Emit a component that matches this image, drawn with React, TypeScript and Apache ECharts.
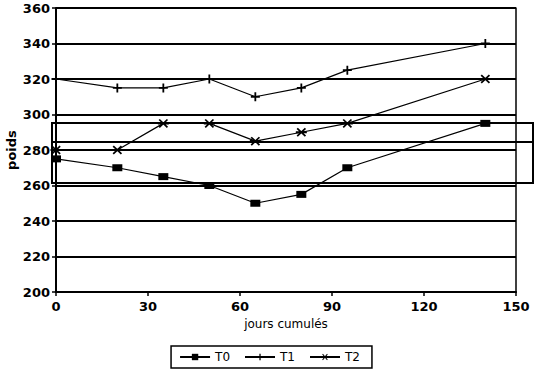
import React, { useEffect, useRef } from "react";
import * as echarts from "echarts";

const days = [0, 20, 35, 50, 65, 80, 95, 140];
const t0 = [275, 270, 265, 260, 250, 255, 270, 295];
const t1 = [320, 315, 315, 320, 310, 315, 325, 340];
const t2 = [280, 280, 295, 295, 285, 290, 295, 320];
const seriesNames = ["T0", "T1", "T2"];
const yTitle = "poids";
const xTitle = "jours cumulés";

const plusPath = "path://M3.2,0H4.8V3.2H8V4.8H4.8V8H3.2V4.8H0V3.2H3.2Z";
const starPath =
  "path://M0,4H10V6H0Z M0.7,1.8L1.8,0.7L9.3,8.2L8.2,9.3Z M8.2,0.7L9.3,1.8L1.8,9.3L0.7,8.2Z";

export default function App() {
  const ref = useRef<HTMLDivElement>(null);
  useEffect(() => {
    document.body.style.margin = "0";
    if (!ref.current) return;
    const chart = echarts.init(ref.current, null, { renderer: "svg" });
    const mk = (ys: number[]) => days.map((d, i) => [d, ys[i]]);
    const font = "DejaVu Sans";
    const lineStyle = { color: "#000", width: 1.2 };
    chart.setOption({
      animation: false,
      backgroundColor: "#fff",
      textStyle: { fontFamily: font, color: "#000" },
      grid: { left: 56, right: 23, top: 8, bottom: 86, containLabel: false, outerBoundsMode: "none" },
      xAxis: {
        type: "value",
        min: 0,
        max: 150,
        interval: 30,
        name: xTitle,
        nameLocation: "middle",
        nameGap: 26,
        nameTextStyle: { fontFamily: font, fontSize: 12, color: "#000" },
        axisLine: { show: true, lineStyle: { color: "#000", width: 2 } },
        axisTick: { show: true, length: 4, lineStyle: { color: "#000", width: 1.5 } },
        axisLabel: { fontFamily: font, fontWeight: "bold", fontSize: 13, color: "#000", margin: 8 },
        splitLine: { show: false },
      },
      yAxis: [
        {
          type: "value",
          min: 200,
          max: 360,
          interval: 20,
          axisLine: { show: true, lineStyle: { color: "#000", width: 2 } },
          axisTick: { show: true, length: 4, lineStyle: { color: "#000", width: 1.5 } },
          axisLabel: { fontFamily: font, fontWeight: "bold", fontSize: 13, color: "#000", margin: 6 },
          splitLine: { show: true, lineStyle: { color: "#000", width: 2 } },
        },
        {
          type: "value",
          min: 200,
          max: 360,
          interval: 20,
          position: "right",
          axisLine: { show: true, lineStyle: { color: "#000", width: 1.5 } },
          axisTick: { show: false },
          axisLabel: { show: false },
          splitLine: { show: false },
        },
      ],
      legend: {
        bottom: 10,
        left: "center",
        data: seriesNames,
        itemWidth: 30,
        itemHeight: 8,
        itemGap: 14,
        borderColor: "#000",
        borderWidth: 1.5,
        borderRadius: 0,
        padding: [5, 12, 5, 8],
        textStyle: { fontFamily: font, fontSize: 12, color: "#000" },
      },
      graphic: [
        {
          type: "text",
          x: 11,
          y: 150,
          rotation: Math.PI / 2,
          style: {
            text: yTitle,
            fontFamily: font,
            fontWeight: "bold",
            fontSize: 13,
            fill: "#000",
            textAlign: "center",
            textVerticalAlign: "middle",
          },
        },
        {
          type: "rect",
          shape: { x: 52, y: 123, width: 481, height: 60 },
          style: { fill: "none", stroke: "#000", lineWidth: 2 },
          z: 100,
        },
        {
          type: "line",
          shape: { x1: 52, y1: 142, x2: 533, y2: 142 },
          style: { stroke: "#000", lineWidth: 2 },
          z: 100,
        },
      ],
      series: [
        {
          name: "T0",
          type: "line",
          data: mk(t0),
          symbol: "rect",
          symbolSize: [10, 7],
          itemStyle: { color: "#000" },
          lineStyle,
          z: 5,
        },
        {
          name: "T1",
          type: "line",
          data: mk(t1),
          symbol: plusPath,
          symbolSize: [9, 9],
          itemStyle: { color: "#000" },
          lineStyle,
          z: 5,
        },
        {
          name: "T2",
          type: "line",
          data: mk(t2),
          symbol: starPath,
          symbolSize: [11, 9],
          itemStyle: { color: "#000" },
          lineStyle,
          z: 5,
        },
      ],
    });
    return () => chart.dispose();
  }, []);
  return <div ref={ref} style={{ width: 539, height: 378 }} />;
}
